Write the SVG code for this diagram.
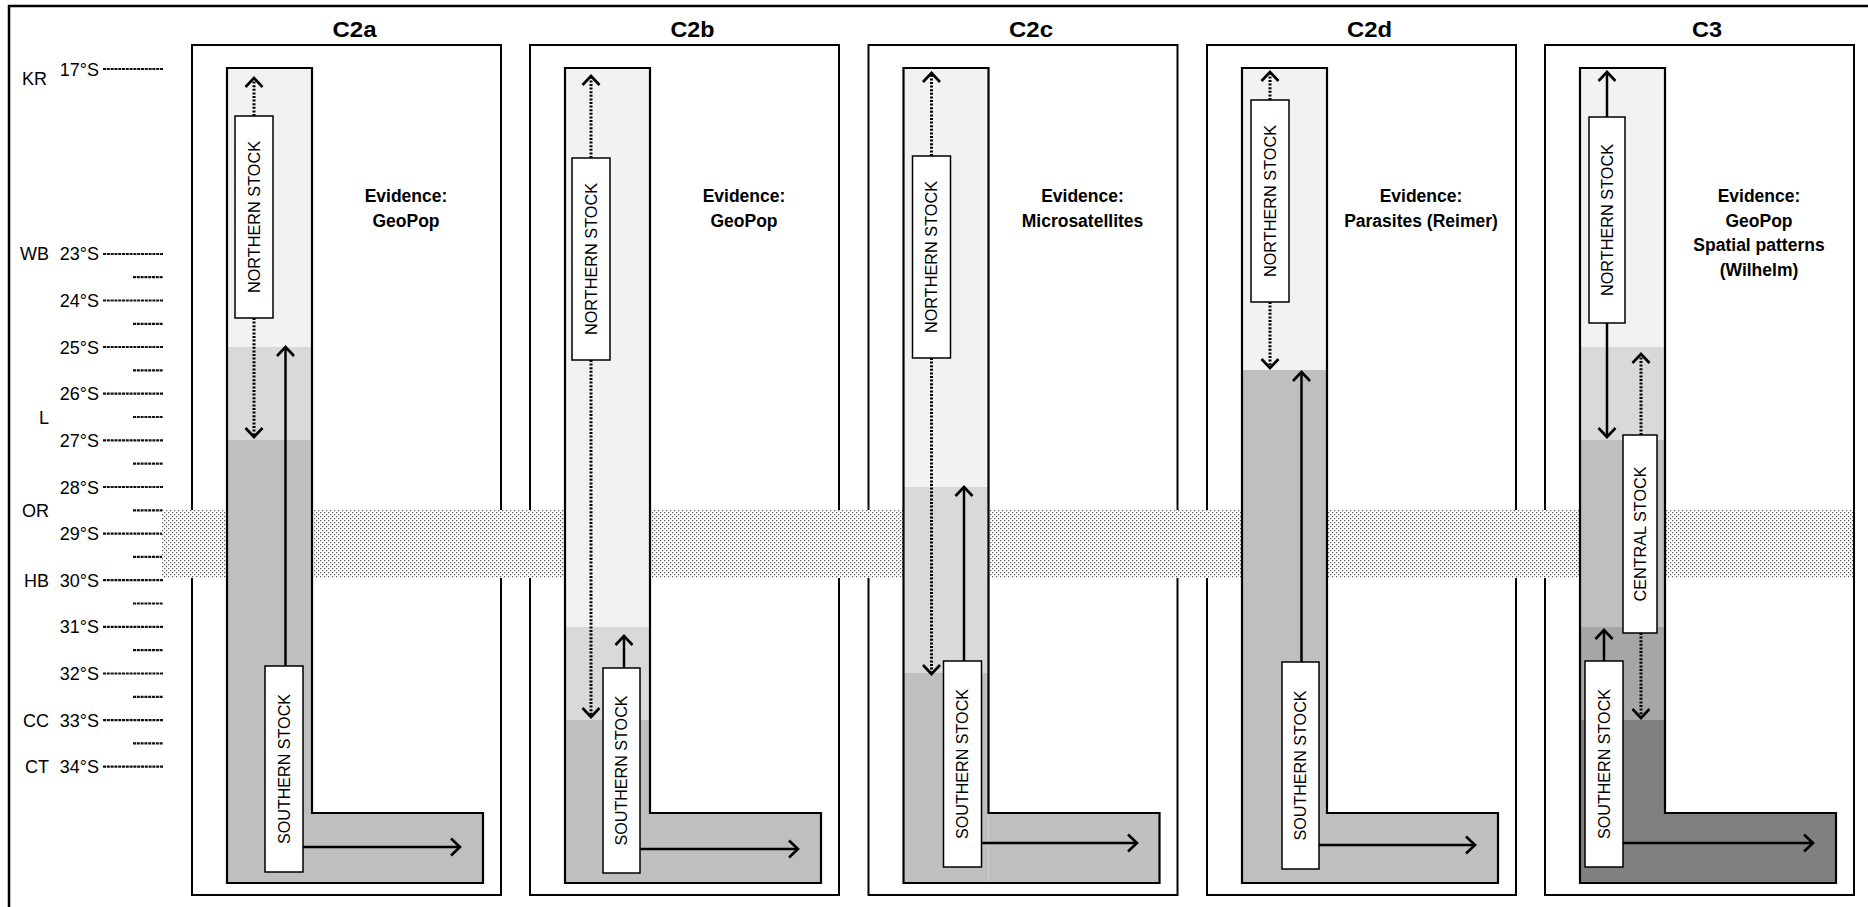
<svg xmlns="http://www.w3.org/2000/svg" width="1868" height="907" viewBox="0 0 1868 907">
<style>
.lab{font-family:"Liberation Sans",Arial,sans-serif;font-size:18px;fill:#000}
.title{font-family:"Liberation Sans",Arial,sans-serif;font-size:22px;font-weight:bold;text-anchor:middle;fill:#000}
.ev{font-family:"Liberation Sans",Arial,sans-serif;font-size:17.5px;font-weight:bold;text-anchor:middle;fill:#000}
.stk{font-family:"Liberation Sans",Arial,sans-serif;font-size:17px;text-anchor:middle;dominant-baseline:central;fill:#000}
.frame{fill:#fff;stroke:#000;stroke-width:2}
.lout{fill:none;stroke:#000;stroke-width:2.2}
.box{fill:#fff;stroke:#000;stroke-width:1.5}
.tick{stroke:#111;stroke-width:2.2;stroke-dasharray:3 0.8}
.solid{stroke:#000;stroke-width:2.5;fill:none;marker-end:url(#ah)}
.dot{stroke:#000;stroke-width:3;stroke-dasharray:2 1.6;fill:none;marker-end:url(#ah)}
.c1{fill:#f2f2f2}.c2{fill:#d9d9d9}.c3{fill:#bfbfbf}.c4{fill:#a6a6a6}.c5{fill:#808080}
</style>
<defs>
<marker id="ah" markerUnits="userSpaceOnUse" markerWidth="24" markerHeight="24" refX="12" refY="12" orient="auto" viewBox="0 0 24 24">
<path d="M3,3.5 L12,12 L3,20.5" fill="none" stroke="#000" stroke-width="2.6"/>
</marker>
<pattern id="dots" width="4" height="4" patternUnits="userSpaceOnUse">
<rect width="4" height="4" fill="#fff"/>
<rect x="0" y="0" width="1.2" height="1.2" fill="#555"/>
<rect x="2" y="2" width="1.2" height="1.2" fill="#555"/>
</pattern>
</defs>
<rect width="1868" height="907" fill="#fff"/>
<path d="M9,907 V6 H1868" fill="none" stroke="#000" stroke-width="2.5"/>

<g id="axis">
<g class="lab" text-anchor="end">
<text x="99" y="76">17°S</text>
<text x="99" y="260">23°S</text>
<text x="99" y="307">24°S</text>
<text x="99" y="354">25°S</text>
<text x="99" y="400">26°S</text>
<text x="99" y="447">27°S</text>
<text x="99" y="494">28°S</text>
<text x="99" y="540">29°S</text>
<text x="99" y="587">30°S</text>
<text x="99" y="633">31°S</text>
<text x="99" y="680">32°S</text>
<text x="99" y="727">33°S</text>
<text x="99" y="773">34°S</text>
<text x="47" y="85">KR</text>
<text x="49" y="260">WB</text>
<text x="49" y="424">L</text>
<text x="49" y="517">OR</text>
<text x="49" y="587">HB</text>
<text x="49" y="727">CC</text>
<text x="49" y="773">CT</text>
</g>
<g class="tick">
<line x1="103" y1="69" x2="163" y2="69"/>
<line x1="103" y1="254" x2="163" y2="254"/>
<line x1="103" y1="300.5" x2="163" y2="300.5"/>
<line x1="103" y1="347" x2="163" y2="347"/>
<line x1="103" y1="393.7" x2="163" y2="393.7"/>
<line x1="103" y1="440.4" x2="163" y2="440.4"/>
<line x1="103" y1="487" x2="163" y2="487"/>
<line x1="103" y1="533.6" x2="163" y2="533.6"/>
<line x1="103" y1="580.2" x2="163" y2="580.2"/>
<line x1="103" y1="626.8" x2="163" y2="626.8"/>
<line x1="103" y1="673.5" x2="163" y2="673.5"/>
<line x1="103" y1="720.1" x2="163" y2="720.1"/>
<line x1="103" y1="766.7" x2="163" y2="766.7"/>
<line x1="133" y1="277.2" x2="163" y2="277.2"/>
<line x1="133" y1="323.8" x2="163" y2="323.8"/>
<line x1="133" y1="370.4" x2="163" y2="370.4"/>
<line x1="133" y1="417" x2="163" y2="417"/>
<line x1="133" y1="463.7" x2="163" y2="463.7"/>
<line x1="133" y1="510.3" x2="163" y2="510.3"/>
<line x1="133" y1="556.9" x2="163" y2="556.9"/>
<line x1="133" y1="603.5" x2="163" y2="603.5"/>
<line x1="133" y1="650.2" x2="163" y2="650.2"/>
<line x1="133" y1="696.8" x2="163" y2="696.8"/>
<line x1="133" y1="743.4" x2="163" y2="743.4"/>
</g>
</g>

<g id="panels">
<g id="panel-C2a">
<rect class="frame" x="192" y="45" width="309" height="850"/>
<text class="title" x="354.5" y="37" textLength="44" lengthAdjust="spacingAndGlyphs">C2a</text>
<text class="ev" x="406" y="202">Evidence:</text>
<text class="ev" x="406" y="226.5">GeoPop</text>
</g>
<g id="panel-C2b">
<rect class="frame" x="530" y="45" width="309" height="850"/>
<text class="title" x="692.5" y="37" textLength="44" lengthAdjust="spacingAndGlyphs">C2b</text>
<text class="ev" x="744" y="202">Evidence:</text>
<text class="ev" x="744" y="226.5">GeoPop</text>
</g>
<g id="panel-C2c">
<rect class="frame" x="868.5" y="45" width="309" height="850"/>
<text class="title" x="1031" y="37" textLength="44" lengthAdjust="spacingAndGlyphs">C2c</text>
<text class="ev" x="1082.5" y="202">Evidence:</text>
<text class="ev" x="1082.5" y="226.5">Microsatellites</text>
</g>
<g id="panel-C2d">
<rect class="frame" x="1207" y="45" width="309" height="850"/>
<text class="title" x="1369.5" y="37" textLength="45" lengthAdjust="spacingAndGlyphs">C2d</text>
<text class="ev" x="1421" y="202">Evidence:</text>
<text class="ev" x="1421" y="226.5">Parasites (Reimer)</text>
</g>
<g id="panel-C3">
<rect class="frame" x="1545" y="45" width="309" height="850"/>
<text class="title" x="1707" y="37" textLength="30" lengthAdjust="spacingAndGlyphs">C3</text>
<text class="ev" x="1759" y="202">Evidence:</text>
<text class="ev" x="1759" y="226.5">GeoPop</text>
<text class="ev" x="1759" y="251">Spatial patterns</text>
<text class="ev" x="1759" y="275.5">(Wilhelm)</text>
</g>
</g>

<rect id="band" x="162" y="510" width="1691" height="68" fill="url(#dots)"/>

<g id="columns">
<g id="col-C2a">
<rect class="c1" x="227" y="68" width="85" height="279"/>
<rect class="c2" x="227" y="347" width="85" height="93"/>
<rect class="c3" x="227" y="440" width="85" height="443"/>
<rect class="c3" x="312" y="813" width="171" height="70"/>
<path class="lout" d="M227,68 H312 V813 H483 V883 H227 Z"/>
</g>
<g id="col-C2b">
<rect class="c1" x="565" y="68" width="85" height="559"/>
<rect class="c2" x="565" y="627" width="85" height="93"/>
<rect class="c3" x="565" y="720" width="85" height="163"/>
<rect class="c3" x="650" y="813" width="171" height="70"/>
<path class="lout" d="M565,68 H650 V813 H821 V883 H565 Z"/>
</g>
<g id="col-C2c">
<rect class="c1" x="903.5" y="68" width="85" height="419"/>
<rect class="c2" x="903.5" y="487" width="85" height="186"/>
<rect class="c3" x="903.5" y="673" width="85" height="210"/>
<rect class="c3" x="988.5" y="813" width="171" height="70"/>
<path class="lout" d="M903.5,68 H988.5 V813 H1159.5 V883 H903.5 Z"/>
</g>
<g id="col-C2d">
<rect class="c1" x="1242" y="68" width="85" height="302"/>
<rect class="c3" x="1242" y="370" width="85" height="513"/>
<rect class="c3" x="1327" y="813" width="171" height="70"/>
<path class="lout" d="M1242,68 H1327 V813 H1498 V883 H1242 Z"/>
</g>
<g id="col-C3">
<rect class="c1" x="1580" y="68" width="85" height="279"/>
<rect class="c2" x="1580" y="347" width="85" height="93"/>
<rect class="c3" x="1580" y="440" width="85" height="187"/>
<rect class="c4" x="1580" y="627" width="85" height="93"/>
<rect class="c5" x="1580" y="720" width="85" height="163"/>
<rect class="c5" x="1665" y="813" width="171" height="70"/>
<path class="lout" d="M1580,68 H1665 V813 H1836 V883 H1580 Z"/>
</g>
</g>

<g id="connectors">
<line class="dot" x1="254" y1="116" x2="254" y2="78"/>
<line class="dot" x1="254" y1="318" x2="254" y2="437"/>
<line class="solid" x1="285.5" y1="666" x2="285.5" y2="347"/>
<line class="solid" x1="303" y1="847" x2="460" y2="847"/>

<line class="dot" x1="591" y1="158" x2="591" y2="76"/>
<line class="dot" x1="591" y1="360" x2="591" y2="717"/>
<line class="solid" x1="624" y1="668" x2="624" y2="636"/>
<line class="solid" x1="640" y1="849" x2="798" y2="849"/>

<line class="dot" x1="931.5" y1="156" x2="931.5" y2="73"/>
<line class="dot" x1="931.5" y1="358" x2="931.5" y2="674"/>
<line class="solid" x1="964" y1="661" x2="964" y2="487"/>
<line class="solid" x1="981.5" y1="843" x2="1137" y2="843"/>

<line class="dot" x1="1270" y1="100" x2="1270" y2="72"/>
<line class="dot" x1="1270" y1="302" x2="1270" y2="368"/>
<line class="solid" x1="1301.5" y1="662" x2="1301.5" y2="372"/>
<line class="solid" x1="1319" y1="845" x2="1475" y2="845"/>

<line class="solid" x1="1607" y1="117" x2="1607" y2="72"/>
<line class="solid" x1="1607" y1="323" x2="1607" y2="437"/>
<line class="dot" x1="1641" y1="435" x2="1641" y2="354"/>
<line class="dot" x1="1641" y1="633" x2="1641" y2="718"/>
<line class="solid" x1="1604" y1="661" x2="1604" y2="630"/>
<line class="solid" x1="1623" y1="843" x2="1813" y2="843"/>
</g>

<g id="nodes">
<g id="C2a-north"><rect class="box" x="235" y="116" width="38" height="202"/><text class="stk" transform="translate(254,217) rotate(-90)" textLength="152" lengthAdjust="spacingAndGlyphs">NORTHERN STOCK</text></g>
<g id="C2a-south"><rect class="box" x="265" y="666" width="38" height="206"/><text class="stk" transform="translate(284,769) rotate(-90)" textLength="150" lengthAdjust="spacingAndGlyphs">SOUTHERN STOCK</text></g>

<g id="C2b-north"><rect class="box" x="572" y="158" width="38" height="202"/><text class="stk" transform="translate(591,259) rotate(-90)" textLength="152" lengthAdjust="spacingAndGlyphs">NORTHERN STOCK</text></g>
<g id="C2b-south"><rect class="box" x="603" y="668" width="37" height="205"/><text class="stk" transform="translate(621.5,770.5) rotate(-90)" textLength="150" lengthAdjust="spacingAndGlyphs">SOUTHERN STOCK</text></g>

<g id="C2c-north"><rect class="box" x="912.5" y="156" width="38" height="202"/><text class="stk" transform="translate(931.5,257) rotate(-90)" textLength="152" lengthAdjust="spacingAndGlyphs">NORTHERN STOCK</text></g>
<g id="C2c-south"><rect class="box" x="943.5" y="661" width="38" height="206"/><text class="stk" transform="translate(962.5,764) rotate(-90)" textLength="150" lengthAdjust="spacingAndGlyphs">SOUTHERN STOCK</text></g>

<g id="C2d-north"><rect class="box" x="1251" y="100" width="38" height="202"/><text class="stk" transform="translate(1270,201) rotate(-90)" textLength="152" lengthAdjust="spacingAndGlyphs">NORTHERN STOCK</text></g>
<g id="C2d-south"><rect class="box" x="1282" y="662" width="37" height="207"/><text class="stk" transform="translate(1300.5,765.5) rotate(-90)" textLength="150" lengthAdjust="spacingAndGlyphs">SOUTHERN STOCK</text></g>

<g id="C3-north"><rect class="box" x="1589" y="117" width="36" height="206"/><text class="stk" transform="translate(1607,220) rotate(-90)" textLength="152" lengthAdjust="spacingAndGlyphs">NORTHERN STOCK</text></g>
<g id="C3-central"><rect class="box" x="1623" y="435" width="34" height="198"/><text class="stk" transform="translate(1640,534) rotate(-90)" textLength="135" lengthAdjust="spacingAndGlyphs">CENTRAL STOCK</text></g>
<g id="C3-south"><rect class="box" x="1585" y="661" width="38" height="206"/><text class="stk" transform="translate(1604,764) rotate(-90)" textLength="150" lengthAdjust="spacingAndGlyphs">SOUTHERN STOCK</text></g>
</g>
</svg>
